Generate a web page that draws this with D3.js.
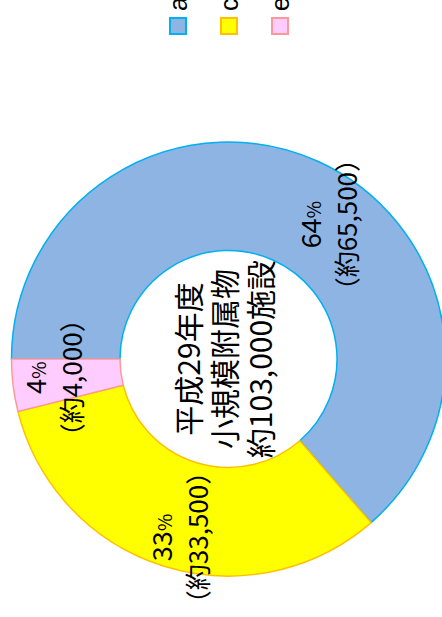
<!DOCTYPE html>
<html><head><meta charset="utf-8">
<script src="https://cdn.jsdelivr.net/npm/d3@7"></script>
<style>html,body{margin:0;padding:0;background:#fff;overflow:hidden}</style>
</head><body>
<script>
// ---- data ----
const categories = ["a", "c", "e"];
const values = [65500, 33500, 4000];
const centerTitle = ["平成29年度", "小規模附属物"];
const centerUnit = "施設";

// ---- styles ----
const fills = ["#8DB4E2", "#FFFF00", "#FFCCFF"];
const strokes = ["#00B0F0", "#FFC000", "#FF9999"];
const W = 617, H = 442; // chart drawn in landscape, rotated onto the portrait page
const cx = 258, cy = 228.5, rOut = 217, rIn = 108.5;
const jp = "'Noto Sans CJK JP', 'Noto Sans', sans-serif";
// label placement nudges (layout only)
const nudge = {a: [-14, 34], c: [-23, 1], e: [1, -12]};

const svg = d3.select("body").append("svg").attr("width", 442).attr("height", 617);
const g = svg.append("g").attr("transform", `translate(0,${W}) rotate(-90)`);

const total = d3.sum(values);
const data = categories.map((c, i) => ({cat: c, value: values[i], i}));
const pie = d3.pie().sort(null).value(d => d.value).startAngle(0).endAngle(2 * Math.PI);
const arcs = pie(data);
const arc = d3.arc().innerRadius(rIn).outerRadius(rOut);
const labelArc = d3.arc().innerRadius(163).outerRadius(163);

const chart = g.append("g").attr("transform", `translate(${cx},${cy})`);
chart.selectAll("path.slice").data(arcs).join("path")
  .attr("class", "slice")
  .attr("d", arc)
  .attr("fill", d => fills[d.data.i])
  .attr("stroke", d => strokes[d.data.i])
  .attr("stroke-width", 1.5);

const pct = d3.format(".0%");
const num = d3.format(",");
const lab = chart.selectAll("g.lab").data(arcs).join("g")
  .attr("class", "lab")
  .attr("transform", d => {
    const c = labelArc.centroid(d);
    const n = nudge[d.data.cat];
    return `translate(${c[0] + n[0]},${c[1] + n[1]})`;
  });
lab.each(function(d) {
  const s = d3.select(this);
  const t1 = s.append("text").attr("y", -9).attr("text-anchor", "middle")
    .attr("font-family", jp).attr("font-size", 27).attr("fill", "#000");
  const p = pct(d.data.value / total);
  t1.append("tspan").text(p.replace("%", ""));
  t1.append("tspan").attr("font-size", 19).text("%");
  s.append("text").attr("y", 27).attr("text-anchor", "middle")
    .attr("font-family", jp).attr("font-size", 26).attr("fill", "#000")
    .text("（約" + num(d.data.value) + "）");
});

// center text
const centerLines = centerTitle.concat(["約" + num(total) + centerUnit]);
chart.selectAll("text.center").data(centerLines).join("text")
  .attr("class", "center")
  .attr("text-anchor", "middle")
  .attr("y", (d, i) => -29 + i * 36)
  .attr("font-family", jp).attr("font-size", 30).attr("fill", "#000")
  .text(d => d);

// legend
const leg = g.append("g");
const li = leg.selectAll("g").data(categories).join("g")
  .attr("transform", (d, i) => `translate(582,${169 + i * 51})`);
li.append("rect").attr("x", 1).attr("y", 1).attr("width", 16).attr("height", 16)
  .attr("fill", (d, i) => fills[i]).attr("stroke", (d, i) => strokes[i]).attr("stroke-width", 2);
li.append("text").attr("x", 24).attr("y", 9).attr("dy", "0.35em")
  .attr("font-family", "'Liberation Sans', Arial, sans-serif").attr("font-size", 25)
  .attr("fill", "#000").text(d => d);
</script>
</body></html>
